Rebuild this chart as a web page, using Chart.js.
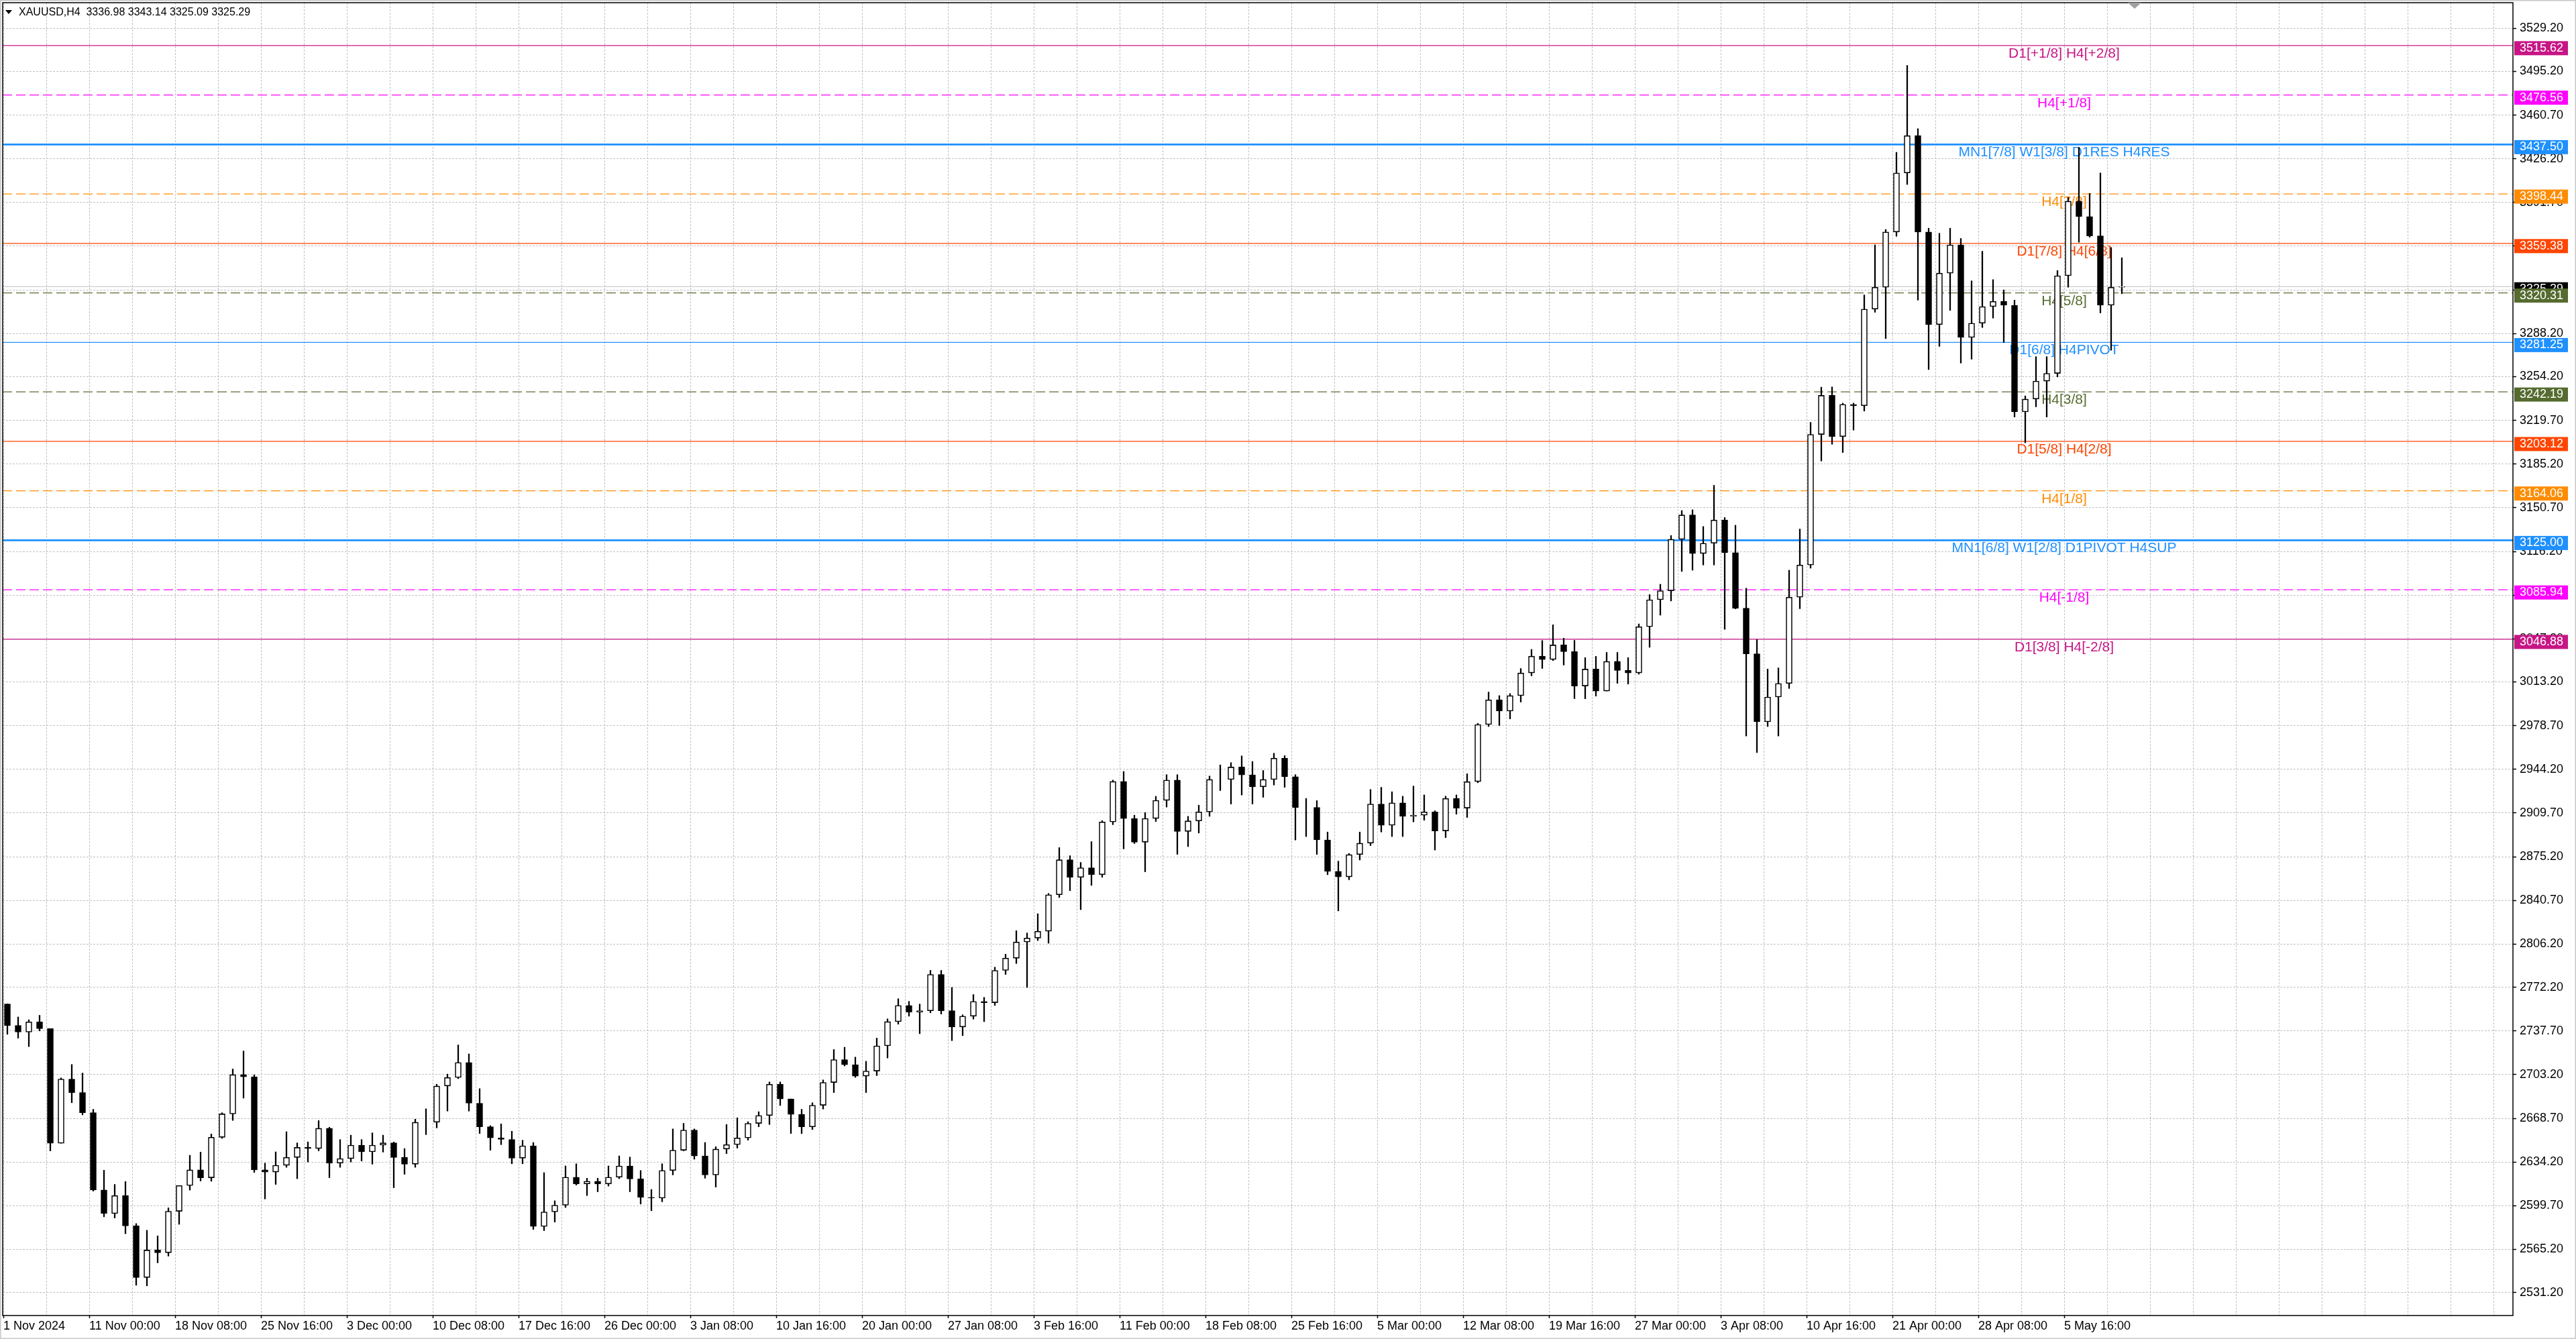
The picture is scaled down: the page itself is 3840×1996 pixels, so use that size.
<!DOCTYPE html>
<html>
<head>
<meta charset="utf-8">
<title>XAUUSD,H4</title>
<script src="https://cdn.jsdelivr.net/npm/chart.js@4.4.1/dist/chart.umd.min.js"></script>
<style>
  html, body { margin: 0; padding: 0; background: #fff; overflow: hidden; }
  #box { width: 3840px; height: 1996px; }
</style>
</head>
<body>
<div id="box"><canvas id="chart" width="3840" height="1996"></canvas></div>
<script>
// header of the chart window
const symbolTitle = "XAUUSD,H4  3336.98 3343.14 3325.09 3325.29";
const lastPrice = 3325.29;

// time axis: one label every 32 H4 bars
const xTickLabels = ["1 Nov 2024", "11 Nov 00:00", "18 Nov 08:00", "25 Nov 16:00", "3 Dec 00:00",
  "10 Dec 08:00", "17 Dec 16:00", "26 Dec 00:00", "3 Jan 08:00", "10 Jan 16:00", "20 Jan 00:00",
  "27 Jan 08:00", "3 Feb 16:00", "11 Feb 00:00", "18 Feb 08:00", "25 Feb 16:00", "5 Mar 00:00",
  "12 Mar 08:00", "19 Mar 16:00", "27 Mar 00:00", "3 Apr 08:00", "10 Apr 16:00", "21 Apr 00:00",
  "28 Apr 08:00", "5 May 16:00"];

// price axis ticks
const yTicks = [3529.20, 3495.20, 3460.70, 3426.20, 3391.70, 3357.20, 3322.70, 3288.20, 3254.20,
  3219.70, 3185.20, 3150.70, 3116.20, 3081.70, 3047.20, 3013.20, 2978.70, 2944.20, 2909.70,
  2875.20, 2840.70, 2806.20, 2772.20, 2737.70, 2703.20, 2668.70, 2634.20, 2599.70, 2565.20, 2531.20];

// price in groups of 4 H4 bars (open = previous close)
const firstOpen = 2759;
const closes = [
  2742, 2736.8, 2744.8, 2739.5, 2649, 2699.7, 2689, 2673.1, 2612.1, 2593.5,
  2607.7, 2583.8, 2543, 2564.7, 2562.6, 2595.3, 2615.6, 2628, 2621.8, 2653.7,
  2672.2, 2703.2, 2701.4, 2628, 2626.3, 2631.6, 2637.8, 2645.7, 2644.8, 2660.8,
  2633.3, 2636.9, 2647.5, 2642.2, 2647.5, 2649.3, 2637.8, 2632.5, 2665.6, 2665.6,
  2694.2, 2700.9, 2712.8, 2680.6, 2662, 2653.2, 2652, 2637.3, 2647, 2583.3,
  2594.8, 2600.1, 2622.2, 2616.9, 2619, 2616.9, 2622.2, 2631.1, 2620.8, 2606.3,
  2605.7, 2627.5, 2643.5, 2659.4, 2639, 2624, 2644.4, 2647.9, 2653.2, 2664.7,
  2670.9, 2695.6, 2684, 2671.8, 2662, 2679, 2697, 2715, 2711, 2702,
  2706, 2725.9, 2745, 2757.8, 2752.5, 2753.6, 2782.3, 2753.6, 2740.8, 2749.3,
  2761, 2760, 2785.5, 2795.1, 2807.9, 2811, 2816.4, 2845.2, 2872.8, 2859,
  2866.5, 2861.1, 2902.7, 2934.6, 2905.4, 2886.7, 2905.4, 2919.7, 2935.7, 2895.2,
  2903.5, 2910.6, 2936.2, 2936.2, 2946, 2939.8, 2930.4, 2936.2, 2953, 2938.4,
  2914.1, 2914.1, 2888.5, 2863.7, 2859.3, 2876.9, 2885.9, 2916.8, 2900, 2917.7,
  2907.1, 2908, 2910.6, 2895.6, 2921.2, 2913.6, 2934.5, 2979.6, 2999, 2990.2,
  3002.4, 3020.3, 3033.5, 3030.9, 3042.4, 3037.1, 3010, 3023.3, 3006, 3029.4,
  3022.3, 3020.3, 3056.8, 3078.1, 3085.2, 3125.8, 3145, 3114.6, 3122.7, 3141,
  3115.2, 3071.4, 3035.4, 2981.7, 3001.3, 3012, 3080.1, 3105.5, 3208.6, 3239.4,
  3206.9, 3232.3, 3231.3, 3307.5, 3324.8, 3368.4, 3415, 3444.5, 3368.4, 3295.3,
  3335.9, 3358.2, 3285.2, 3296.4, 3309.5, 3313.6, 3310.6, 3226.4, 3236.5, 3250.7,
  3256.8, 3333.9, 3392.7, 3380.6, 3365.3, 3310.6, 3324.8, 3325.3];
const highs = [
  2759, 2748.7, 2746.5, 2750, 2739.5, 2700.6, 2711.2, 2704.4, 2675.8, 2627.7,
  2616.5, 2618.8, 2585.6, 2580.3, 2575.9, 2598, 2615.6, 2639.5, 2642, 2656.3,
  2673.1, 2707.6, 2721.8, 2703, 2633.3, 2642.2, 2658.1, 2649.3, 2650.1, 2666.9,
  2661.6, 2651.9, 2655.4, 2651.9, 2657.2, 2655.4, 2650, 2644.8, 2668, 2676.2,
  2695.6, 2703.6, 2726.6, 2719.5, 2692.1, 2662.9, 2664.3, 2658.5, 2651.4, 2649.6,
  2625.8, 2603.6, 2631.1, 2632.8, 2621.4, 2621.4, 2631.1, 2639, 2638.1, 2627.5,
  2612.5, 2632.8, 2660.3, 2664.7, 2660.3, 2649.6, 2646.3, 2663.8, 2669.1, 2666,
  2673.9, 2697.4, 2697.4, 2684, 2675.8, 2681, 2699, 2723, 2724.8, 2717,
  2713.7, 2732, 2747.2, 2763.1, 2761, 2758.9, 2785.5, 2785.5, 2772, 2750.4,
  2766.4, 2764.2, 2788, 2798.3, 2816.8, 2815, 2830.2, 2846.2, 2882.4, 2876,
  2870.7, 2887.1, 2903.7, 2935.7, 2942.5, 2908, 2910.1, 2922.9, 2940, 2940,
  2907.1, 2915.9, 2938.9, 2947.7, 2949.5, 2954.8, 2950.4, 2943.3, 2956.9, 2955,
  2940, 2921.2, 2919.5, 2894.7, 2871.7, 2877.8, 2894.7, 2928.3, 2930, 2926.5,
  2923, 2931, 2924, 2911.5, 2923, 2924, 2940.7, 2980.5, 3005.2, 3002.4,
  3004, 3023.8, 3038.9, 3045.9, 3058.3, 3047.7, 3046, 3032.4, 3033.4, 3036.5,
  3036.5, 3032.4, 3059, 3082.1, 3090.3, 3128.8, 3148.5, 3149.1, 3135.9, 3168.4,
  3143, 3136.9, 3087.2, 3046.6, 3023.3, 3024.3, 3101.4, 3133.9, 3218.1, 3245.9,
  3246.1, 3233.3, 3233.3, 3318.7, 3358.2, 3370.4, 3431.3, 3499.9, 3450, 3371.4,
  3367.4, 3371.4, 3363.3, 3329.8, 3353.2, 3330.8, 3322.7, 3314.6, 3239, 3270,
  3270, 3338, 3395.8, 3435.3, 3398.9, 3415, 3356.2, 3348.1];
const lows = [
  2735, 2732, 2725.3, 2737.7, 2643, 2649, 2681, 2671.4, 2611.2, 2590.9,
  2590, 2577.6, 2536.9, 2536.4, 2554.6, 2559.9, 2585, 2612, 2619.2, 2619,
  2652.8, 2667, 2684.6, 2626, 2605, 2616.5, 2630, 2621, 2634.2, 2643,
  2621.8, 2630, 2634.2, 2635, 2632.5, 2642, 2613.9, 2624.5, 2630, 2655.8,
  2661.1, 2674.4, 2700, 2674.4, 2656.7, 2643.5, 2647.9, 2632.8, 2632.8, 2581,
  2580, 2586.8, 2598.3, 2616, 2607.7, 2610.7, 2615.2, 2621, 2610.7, 2601,
  2595.7, 2602.8, 2624, 2643, 2636.4, 2621.4, 2614.4, 2640.8, 2645.2, 2651.4,
  2662, 2663.8, 2678.8, 2656.7, 2656.6, 2659.8, 2676, 2689, 2710, 2701,
  2689, 2702.4, 2716.3, 2743, 2749.3, 2735.5, 2752, 2751, 2730, 2734,
  2747, 2745, 2757.8, 2782.3, 2790.9, 2772, 2809, 2806.9, 2843, 2848.4,
  2833.4, 2852.6, 2859, 2900.5, 2881.4, 2885.6, 2863.3, 2903, 2914.4, 2877.1,
  2883.2, 2893.9, 2907.1, 2927.4, 2916.8, 2923.9, 2916.8, 2922.1, 2931.8, 2930,
  2888.4, 2891.1, 2877, 2861, 2832.4, 2857, 2872.6, 2884, 2894.7, 2891.1,
  2891.1, 2902.7, 2904, 2880.5, 2890.3, 2908.8, 2906.2, 2933.6, 2978, 2978.7,
  2984, 2997.3, 3018, 3023.8, 3030, 3026.5, 3000, 2999.9, 3002, 3006,
  3012.1, 3011.5, 3019.3, 3040.5, 3065.9, 3077.1, 3100.4, 3101.4, 3105.5, 3105.5,
  3054.7, 3070.9, 2970.5, 2957.4, 2978, 2970.5, 3008, 3071, 3103, 3187.6,
  3200.8, 3194.3, 3212, 3227, 3305, 3284.2, 3365, 3405.9, 3314.6, 3259.8,
  3278.1, 3306.5, 3264.9, 3268, 3293, 3300.4, 3281.2, 3222.3, 3202, 3230.4,
  3222.3, 3254, 3324.8, 3360.3, 3364.3, 3304.5, 3275, 3319.7];

// Murrey math levels drawn by the indicator
const levelPrices = [3515.62, 3476.56, 3437.50, 3398.44, 3359.38, 3320.31, 3281.25,
  3242.19, 3203.12, 3164.06, 3125.00, 3085.94, 3046.88];
const levelNames = ["D1[+1/8] H4[+2/8]", "H4[+1/8]", "MN1[7/8] W1[3/8] D1RES H4RES", "H4[7/8]",
  "D1[7/8] H4[6/8]", "H4[5/8]", "D1[6/8] H4PIVOT", "H4[3/8]", "D1[5/8] H4[2/8]", "H4[1/8]",
  "MN1[6/8] W1[2/8] D1PIVOT H4SUP", "H4[-1/8]", "D1[3/8] H4[-2/8]"];

// styles of those levels
const levelColors = ["#C71585", "#FF00FF", "#1E90FF", "#FF8C00", "#FF4500", "#556B2F", "#1E90FF",
  "#556B2F", "#FF4500", "#FF8C00", "#1E90FF", "#FF00FF", "#C71585"];
const levelDashed = [false, true, false, true, false, true, false, true, false, true, false, true, false];
const levelWidths = [1.2, 1.2, 2.6, 1.2, 1.2, 1.2, 1.2, 1.2, 1.2, 1.2, 2.6, 1.2, 1.2];

const FONT = '"Liberation Sans", Arial, sans-serif';
const barsPerCandle = 4;
const xMin = -0.25, xMax = 935.25;     // bar index range of the plot
const yMin = 2513.0, yMax = 3549.43;
const labelBar = 768;                 // level labels are centred on this bar

const opens = closes.map((c, i) => i === 0 ? firstOpen : closes[i - 1]);
const xOf = i => i * barsPerCandle + 1.5;

const wickData = closes.map((c, i) => ({ x: xOf(i), y: [lows[i], highs[i]] }));
const bodyData = closes.map((c, i) => ({ x: xOf(i), y: [opens[i], c] }));
const bodyFill = closes.map((c, i) => c >= opens[i] ? "#ffffff" : "#000000");

const levelSets = levelPrices.map((p, i) => ({
  type: "line",
  data: [{ x: xMin, y: p }, { x: xMax, y: p }],
  borderColor: levelColors[i],
  borderWidth: levelWidths[i],
  borderDash: levelDashed[i] ? [14, 6] : [],
  pointRadius: 0,
  order: 3
}));

const priceLine = {
  type: "line",
  data: [{ x: xMin, y: lastPrice }, { x: xMax, y: lastPrice }],
  borderColor: "#C0C0C0",
  borderWidth: 1,
  pointRadius: 0,
  order: 4
};

function priceTag(ctx, y, price, bg) {
  const py = y.getPixelForValue(price);
  ctx.fillStyle = bg;
  ctx.fillRect(3748, py - 6.5, 80, 21);
  ctx.fillStyle = "#ffffff";
  ctx.font = "18px " + FONT;
  ctx.textAlign = "left";
  ctx.textBaseline = "middle";
  ctx.fillText(price.toFixed(2), 3756, py + 4);
}

const overlay = {
  id: "overlay",
  beforeDatasetsDraw(chart) {
    const { ctx, scales: { x, y } } = chart;
    const cx = x.getPixelForValue(labelBar);
    ctx.save();
    ctx.font = "21px " + FONT;
    ctx.textAlign = "center";
    ctx.textBaseline = "alphabetic";
    levelPrices.forEach((p, i) => {
      ctx.fillStyle = levelColors[i];
      ctx.fillText(levelNames[i], cx, y.getPixelForValue(p) + 18);
    });
    ctx.restore();
  },
  afterDraw(chart) {
    const { ctx, chartArea: a, scales: { y } } = chart;
    ctx.save();
    // frame around the plot
    ctx.strokeStyle = "#000";
    ctx.lineWidth = 1.5;
    ctx.strokeRect(a.left, a.top, a.right - a.left, a.bottom - a.top);
    // window border
    ctx.strokeStyle = "#C8C8C8";
    ctx.lineWidth = 3;
    ctx.strokeRect(0, 0, 3840, 1996);
    // chart shift marker
    ctx.fillStyle = "#A0A0A0";
    ctx.beginPath();
    ctx.moveTo(3172, a.top); ctx.lineTo(3192, a.top); ctx.lineTo(3182, a.top + 9);
    ctx.closePath(); ctx.fill();
    // symbol header
    ctx.fillStyle = "#000";
    ctx.beginPath();
    ctx.moveTo(8, 15); ctx.lineTo(18, 15); ctx.lineTo(13, 21);
    ctx.closePath(); ctx.fill();
    ctx.font = "16px " + FONT;
    ctx.textAlign = "left";
    ctx.textBaseline = "middle";
    ctx.fillText(symbolTitle, 28, 19);
    // price tags on the right axis
    priceTag(ctx, y, lastPrice, "#000000");
    levelPrices.forEach((p, i) => priceTag(ctx, y, p, levelColors[i]));
    ctx.restore();
  }
};

new Chart(document.getElementById("chart"), {
  type: "bar",
  data: {
    datasets: [
      {
        label: "body",
        data: bodyData,
        backgroundColor: bodyFill,
        borderColor: "#000",
        borderWidth: 1.6,
        borderSkipped: false,
        barThickness: 9,
        grouped: false,
        order: 0
      },
      {
        label: "wick",
        data: wickData,
        backgroundColor: "#000",
        barThickness: 1.6,
        grouped: false,
        order: 1
      },
      priceLine,
      ...levelSets
    ]
  },
  options: {
    responsive: false,
    animation: false,
    layout: { padding: { left: 4, top: 4, right: 0, bottom: 0 } },
    plugins: { legend: { display: false }, tooltip: { enabled: false }, title: { display: false } },
    font: { family: FONT },
    scales: {
      x: {
        type: "linear",
        min: xMin,
        max: xMax,
        offset: false,
        afterBuildTicks: s => {
          const t = [];
          for (let v = 0; v <= xMax; v += 16) t.push({ value: v });
          s.ticks = t;
        },
        afterFit: s => { s.height = 35; s.paddingLeft = 0; s.paddingRight = 0; },
        grid: {
          offset: false,
          color: "#C0C0C0",
          lineWidth: 1,
          tickLength: 4,
          tickWidth: 1.5,
          tickColor: c => (c.tick && c.tick.value % 32 === 0 && c.tick.value / 32 < xTickLabels.length) ? "#000" : "rgba(0,0,0,0)"
        },
        border: { display: false, dash: [3, 2] },
        ticks: {
          autoSkip: false,
          maxRotation: 0,
          align: "start",
          padding: 1,
          color: "#000",
          font: { family: FONT, size: 18 },
          callback: v => (v % 32 === 0 && v / 32 < xTickLabels.length) ? xTickLabels[v / 32] : ""
        }
      },
      y: {
        type: "linear",
        position: "right",
        min: yMin,
        max: yMax,
        afterBuildTicks: s => { s.ticks = yTicks.map(v => ({ value: v })); },
        afterFit: s => { s.width = 94; s.paddingTop = 0; s.paddingBottom = 0; },
        grid: {
          color: "#C0C0C0",
          lineWidth: 1,
          tickLength: 5,
          tickWidth: 1.5,
          tickColor: "#000"
        },
        border: { display: false, dash: [3, 2] },
        ticks: {
          autoSkip: false,
          padding: 5,
          color: "#000",
          font: { family: FONT, size: 18 },
          callback: v => Number(v).toFixed(2)
        }
      }
    }
  },
  plugins: [overlay]
});
</script>
</body>
</html>
